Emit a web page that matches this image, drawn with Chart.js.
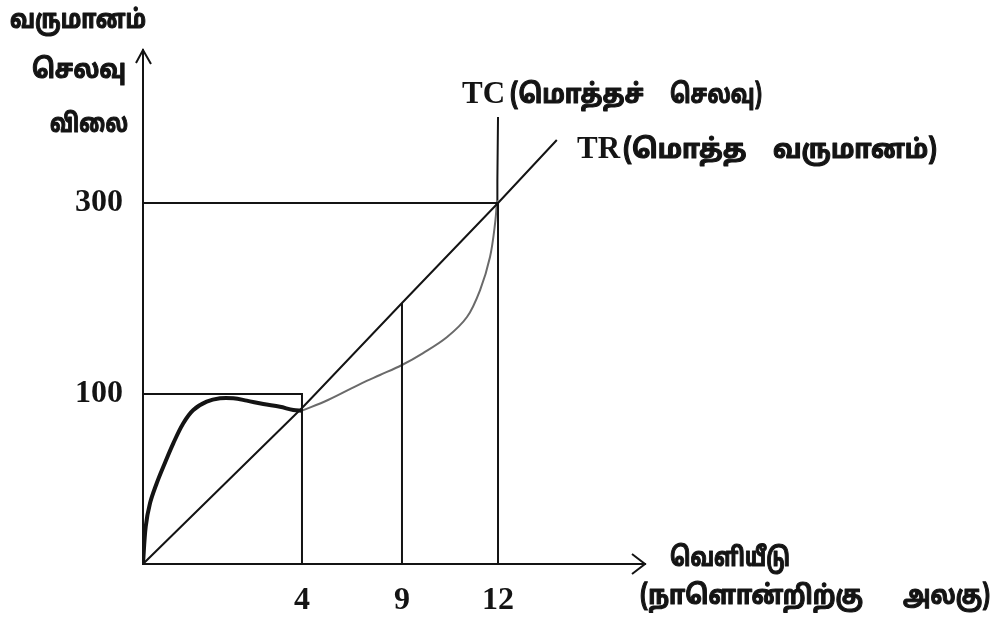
<!DOCTYPE html>
<html><head><meta charset="utf-8">
<script src="https://cdn.jsdelivr.net/npm/chart.js@4.4.1/dist/chart.umd.min.js"></script>
<style>html,body{margin:0;padding:0;background:#fff;} #wrap{width:994px;height:621px;position:relative;} canvas{display:block}</style>
</head><body><div id="wrap"><canvas id="c" width="994" height="621"></canvas></div>
<script>
// ---- data (values read from the schematic) ----
const xTicks = [4, 9, 12];
const yTicks = [100, 300];
const trX = [0, 4, 4.67, 9, 12, 13.6];
const trY = [0, 91.8, 100, 195.3, 300, 361.8];
const tcRiseX = [0, 0.068, 0.176, 0.345, 0.511, 0.762, 1.014, 1.266, 1.603, 1.937, 2.272, 2.609, 3.027, 3.447, 3.782, 4.0];
const tcRiseY = [0, 21.9, 35.7, 47.5, 57.2, 71.0, 82.8, 90.6, 95.5, 97.5, 97.5, 96.1, 94.1, 92.5, 90.6, 90.2];
const tcMidX = [4.0, 5.3, 7.0, 7.9, 9.0, 9.66, 10.41, 11.03, 11.44, 11.75, 11.91, 11.97];
const tcMidY = [90.2, 96.5, 111.5, 119.9, 130.4, 142.9, 159.7, 180.6, 208.9, 243.5, 279.1, 302.9];
const tcTopX = [11.97, 11.98, 12.0];
const tcTopY = [302.9, 322.5, 384.3];
const guide100X = [0, 4, 4];
const guide100Y = [100, 100, 0];
const guide300X = [0, 12, 12];
const guide300Y = [300, 300, 0];
const guide9X = [9, 9];
const guide9Y = [0, 195.3];

const yTitle = ['வருமானம்', 'செலவு', 'விலை'];
const xTitle = ['வெளியீடு', '(நாளொன்றிற்கு', 'அலகு)'];
const tcLabel = ['TC', '(மொத்தச்', 'செலவு)'];
const trLabel = ['TR', '(மொத்த', 'வருமானம்)'];

// ---- piecewise linear scale (the drawing is schematic, not to scale) ----
const scaleBreaks = {
  x: [[0, 0], [4, 0.3167], [9, 0.5159], [12, 0.7072], [16, 1]],
  y: [[0, 0], [100, 0.3307], [300, 0.7023], [450, 1]]
};
class PiecewiseScale extends Chart.LinearScale {
  _toDec(v) {
    const b = scaleBreaks[this.id];
    for (let i = 1; i < b.length; i++) {
      if (v <= b[i][0] || i === b.length - 1) {
        const v0 = b[i-1][0], f0 = b[i-1][1], v1 = b[i][0], f1 = b[i][1];
        return f0 + (v - v0) * (f1 - f0) / (v1 - v0);
      }
    }
  }
  _fromDec(f) {
    const b = scaleBreaks[this.id];
    for (let i = 1; i < b.length; i++) {
      if (f <= b[i][1] || i === b.length - 1) {
        const v0 = b[i-1][0], f0 = b[i-1][1], v1 = b[i][0], f1 = b[i][1];
        return v0 + (f - f0) * (v1 - v0) / (f1 - f0);
      }
    }
  }
  getPixelForValue(value) {
    if (value === null || value === undefined || isNaN(value)) return NaN;
    return this.getPixelForDecimal(this._toDec(value));
  }
  getValueForPixel(pixel) { return this._fromDec(this.getDecimalForPixel(pixel)); }
}
PiecewiseScale.id = 'piecewise';
PiecewiseScale.defaults = Chart.LinearScale.defaults;
Chart.register(PiecewiseScale);

const pts = (xs, ys) => xs.map((x, i) => ({x: x, y: ys[i]}));
const INK = '#141414';
const SERIF = "'Liberation Serif','Times New Roman',serif";
const TAMIL = "'Noto Sans Tamil','Noto Sans Tamil UI','Lohit Tamil','Latha','Noto Sans',sans-serif";

const line = (data, color, width, tension) => ({
  data: data, borderColor: color, borderWidth: width, pointRadius: 0,
  tension: tension, fill: false, borderCapStyle: 'butt', borderJoinStyle: 'miter'
});

const textPlugin = {
  id: 'texts',
  afterDraw(chart) {
    const ctx = chart.ctx, a = chart.chartArea;
    ctx.save();
    ctx.fillStyle = INK;
    ctx.textBaseline = 'alphabetic';
    ctx.textAlign = 'left';
    // arrowheads
    ctx.strokeStyle = INK; ctx.lineWidth = 2;
    ctx.beginPath();
    ctx.moveTo(a.left - 7, a.top + 13); ctx.lineTo(a.left, a.top); ctx.lineTo(a.left + 8, a.top + 14);
    ctx.moveTo(a.right - 13, a.bottom - 10); ctx.lineTo(a.right, a.bottom); ctx.lineTo(a.right - 13, a.bottom + 10);
    ctx.stroke();
    // heavy Tamil text (fill + thin stroke to match the heavy original face)
    const tam = (t, x, y, w) => {
      ctx.fillText(t, x, y, w);
      ctx.lineWidth = 1.1; ctx.lineJoin = 'round';
      ctx.strokeText(t, x, y, w);
    };
    ctx.font = "bold 26px " + TAMIL;
    tam(yTitle[0], 10, 28, 136);
    tam(yTitle[1], 32, 78, 94);
    tam(yTitle[2], 50, 132, 78);
    tam(xTitle[0], 670, 566, 120);
    tam(xTitle[1], 640, 604, 223);
    tam(xTitle[2], 903, 604, 87);
    tam(tcLabel[1], 510, 103, 134);
    tam(tcLabel[2], 670, 103, 92);
    tam(trLabel[1], 623, 158, 130);
    tam(trLabel[2], 773, 158, 164);
    // TC / TR latin part
    ctx.font = "bold 31px " + SERIF;
    ctx.fillText(tcLabel[0], 462, 103);
    ctx.fillText(trLabel[0], 577, 158);
    ctx.restore();
  }
};

new Chart(document.getElementById('c'), {
  type: 'line',
  data: {
    datasets: [
      line(pts(guide100X, guide100Y), INK, 2, 0),
      line(pts(guide300X, guide300Y), INK, 2, 0),
      line(pts(guide9X, guide9Y), INK, 2, 0),
      line(pts(trX, trY), INK, 2, 0),
      line(pts(tcMidX, tcMidY), '#6a6a6a', 2, 0.35),
      line(pts(tcTopX, tcTopY), INK, 2, 0),
      line(pts(tcRiseX, tcRiseY), INK, 4, 0.35)
    ]
  },
  options: {
    responsive: false, animation: false, devicePixelRatio: 1,
    layout: {padding: {top: 50, right: 349, bottom: 0, left: 0}},
    plugins: {legend: {display: false}, tooltip: {enabled: false}},
    scales: {
      x: {
        type: 'piecewise', min: 0, max: 16,
        grid: {display: false, drawTicks: false},
        border: {display: true, color: INK, width: 2},
        afterBuildTicks: s => { s.ticks = xTicks.map(v => ({value: v})); },
        afterFit: s => { s.height = 57; },
        ticks: {autoSkip: false, maxRotation: 0, padding: 18, color: INK,
                font: {family: SERIF, weight: 'bold', size: 32},
                callback: v => String(v)}
      },
      y: {
        type: 'piecewise', min: 0, max: 450,
        grid: {display: false, drawTicks: false},
        border: {display: true, color: INK, width: 2},
        afterBuildTicks: s => { s.ticks = yTicks.map(v => ({value: v})); },
        afterFit: s => { s.width = 143; },
        ticks: {autoSkip: false, padding: 20, color: INK,
                font: {family: SERIF, weight: 'bold', size: 32},
                callback: v => String(v)}
      }
    }
  },
  plugins: [textPlugin]
});
</script>
</body></html>
